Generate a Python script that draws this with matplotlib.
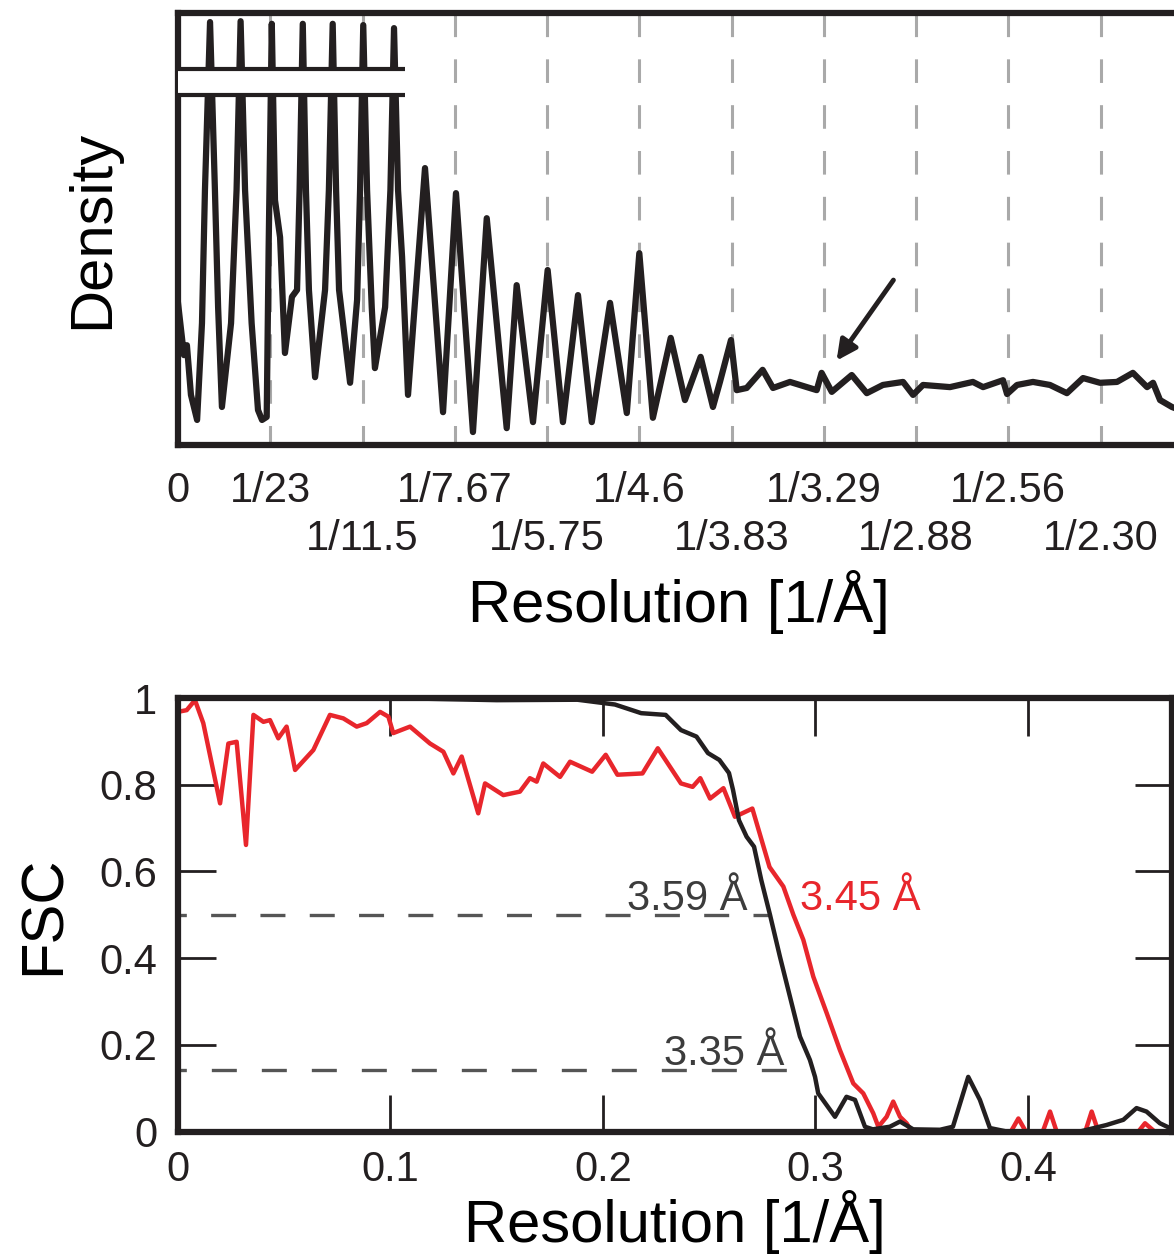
import matplotlib
matplotlib.use("Agg")
import matplotlib.pyplot as plt

plt.rcParams.update({
    "font.family": "Liberation Sans",
    "lines.scale_dashes": False,
    "text.color": "#231f20",
    "xtick.color": "#231f20",
    "ytick.color": "#231f20",
})

INK = "#231f20"
RED = "#e8262c"

# ─── DATA: density profile (resolution in 1/Å, density in arbitrary units) ───
dens_x = [0.0000, 0.0028, 0.0042, 0.0061, 0.0090, 0.0113, 0.0127, 0.0151, 0.0174, 0.0189,
          0.0207, 0.0250, 0.0276, 0.0295, 0.0316, 0.0347, 0.0377, 0.0396, 0.0418, 0.0427,
          0.0442, 0.0457, 0.0481, 0.0504, 0.0537, 0.0561, 0.0573, 0.0588, 0.0603, 0.0617,
          0.0646, 0.0693, 0.0711, 0.0729, 0.0745, 0.0759, 0.0811, 0.0844, 0.0858, 0.0873,
          0.0891, 0.0913, 0.0928, 0.0976, 0.1001, 0.1018, 0.1037, 0.1056, 0.1084, 0.1164,
          0.1249, 0.1310, 0.1390, 0.1455, 0.1549, 0.1596, 0.1673, 0.1742, 0.1814, 0.1885,
          0.1950, 0.2036, 0.2115, 0.2174, 0.2238, 0.2322, 0.2389, 0.2463, 0.2521, 0.2554,
          0.2606, 0.2633, 0.2680, 0.2755, 0.2804, 0.2884, 0.3010, 0.3033, 0.3081, 0.3175,
          0.3246, 0.3322, 0.3417, 0.3464, 0.3511, 0.3638, 0.3746, 0.3794, 0.3888, 0.3907,
          0.3954, 0.4029, 0.4109, 0.4189, 0.4265, 0.4345, 0.4425, 0.4500, 0.4567, 0.4595,
          0.4628, 0.4684, 0.4722]
dens_y = [32.9, 20.8, 23.1, 11.6, 5.8, 28.2, 59.0, 97.9, 59.0, 31.9,
          8.8, 28.2, 59.0, 98.1, 59.0, 28.2, 8.1, 5.8, 6.5, 45.1,
          97.5, 56.7, 48.1, 21.3, 34.3, 35.9, 59.0, 97.5, 59.0, 35.9,
          15.7, 35.9, 59.0, 97.5, 59.0, 35.9, 14.4, 33.6, 59.0, 97.2,
          59.0, 31.9, 17.8, 31.9, 59.0, 96.5, 59.0, 43.5, 11.6, 64.1,
          7.6, 58.3, 3.0, 52.5, 3.9, 37.0, 5.3, 40.5, 5.3, 34.7,
          5.3, 32.9, 7.4, 44.4, 6.3, 24.8, 10.4, 20.4, 8.8, 14.6,
          24.3, 12.7, 13.2, 17.4, 13.2, 14.6, 12.7, 16.7, 12.3, 16.2,
          12.0, 13.9, 14.6, 11.6, 13.9, 13.4, 14.6, 13.4, 15.0, 11.8,
          13.9, 14.6, 13.9, 12.0, 15.5, 14.4, 14.6, 16.7, 13.4, 14.4,
          10.4, 8.8, 8.1]

layer_ticks = [k / 23 for k in range(11)]
layer_labels = ["0", "1/23", "1/11.5", "1/7.67", "1/5.75", "1/4.6",
                "1/3.83", "1/3.29", "1/2.88", "1/2.56", "1/2.30"]

# axis break in the density panel
break_lo, break_hi, break_end = 81.0, 87.0, 0.107
arrow_tip = (0.3096, 19.0)
arrow_tail = (0.3379, 38.7)

# ─── DATA: FSC curves ───
black_x = [0.0, 0.10, 0.15, 0.188, 0.2056, 0.218, 0.2295, 0.2367, 0.244, 0.2494,
           0.2548, 0.2593, 0.2612, 0.264, 0.2676, 0.2711, 0.2745, 0.2786, 0.2833, 0.288,
           0.2927, 0.2974, 0.2998, 0.3013, 0.3092, 0.3146, 0.3186, 0.3233, 0.327, 0.335,
           0.3398, 0.346, 0.3586, 0.3647, 0.3719, 0.3774, 0.3821, 0.39, 0.4245, 0.437,
           0.4449, 0.4511, 0.4558, 0.4621, 0.4668]
black_y = [1.0, 1.0, 0.995, 0.996, 0.985, 0.965, 0.961, 0.926, 0.911, 0.873,
           0.857, 0.827, 0.788, 0.718, 0.680, 0.657, 0.580, 0.50, 0.403, 0.311,
           0.219, 0.165, 0.126, 0.088, 0.034, 0.080, 0.073, 0.011, 0.005, 0.011,
           0.023, 0.005, 0.004, 0.011, 0.126, 0.073, 0.008, 0.0, 0.0, 0.015,
           0.027, 0.054, 0.046, 0.019, 0.008]

red_x = [0.002, 0.0041, 0.008, 0.0119, 0.0198, 0.0237, 0.0276, 0.032, 0.0355, 0.0402,
         0.0433, 0.0472, 0.0511, 0.0551, 0.0637, 0.0715, 0.0778, 0.0841, 0.0888, 0.0951,
         0.099, 0.1013, 0.1092, 0.1186, 0.1249, 0.1296, 0.1335, 0.1413, 0.1445, 0.1531,
         0.1609, 0.1656, 0.1688, 0.1719, 0.1798, 0.1845, 0.1949, 0.2013, 0.2068, 0.2186,
         0.2258, 0.2367, 0.2422, 0.2458, 0.2504, 0.2567, 0.2621, 0.2703, 0.2784, 0.2849,
         0.2896, 0.2943, 0.299, 0.3053, 0.3115, 0.3178, 0.3225, 0.3272, 0.3296, 0.3335,
         0.3366, 0.3398, 0.3429, 0.3453, 0.392, 0.3955, 0.399, 0.407, 0.4104, 0.4135,
         0.427, 0.43, 0.4331, 0.452, 0.4551, 0.4596, 0.4678]
red_y = [0.97, 0.972, 0.995, 0.942, 0.757, 0.895, 0.899, 0.661, 0.961, 0.945,
         0.949, 0.907, 0.934, 0.834, 0.880, 0.961, 0.953, 0.934, 0.942, 0.968,
         0.957, 0.919, 0.934, 0.895, 0.876, 0.826, 0.865, 0.734, 0.803, 0.776,
         0.784, 0.815, 0.807, 0.849, 0.818, 0.853, 0.830, 0.869, 0.823, 0.826,
         0.884, 0.803, 0.795, 0.815, 0.768, 0.792, 0.726, 0.745, 0.610, 0.565,
         0.50, 0.442, 0.357, 0.273, 0.188, 0.111, 0.088, 0.042, 0.011, 0.034,
         0.069, 0.034, 0.019, 0.0, 0.0, 0.03, 0.0, 0.0, 0.046, 0.0,
         0.0, 0.046, 0.0, 0.0, 0.019, 0.0, 0.0]

fsc_ticks_x = [0, 0.1, 0.2, 0.3, 0.4]
fsc_ticks_y = [0, 0.2, 0.4, 0.6, 0.8, 1.0]
fsc_labels_x = ["0", "0.1", "0.2", "0.3", "0.4"]
fsc_labels_y = ["0", "0.2", "0.4", "0.6", "0.8", "1"]

res_half_black = 3.59
res_half_red = 3.45
res_gold_black = 3.35
thr_half, thr_gold = 0.5, 0.143

# ─── FIGURE ───
W, H = 1174, 1259
fig = plt.figure(figsize=(W / 100, H / 100), dpi=100)

# top panel: density profile
ax1 = fig.add_axes([178 / W, 1 - 445 / H, (1180 - 178) / W, (445 - 13) / H])
ax1.set_xlim(0, 0.4722)
ax1.set_ylim(0, 100)
for t in layer_ticks[1:]:
    ax1.plot([t, t], [100, 0], ls=(0, (17, 16)), color="#a9a9a9", lw=2.2, zorder=1)
ax1.plot(dens_x, dens_y, color=INK, lw=4.5, zorder=2)
ax1.axhspan(break_lo, break_hi, xmin=0, xmax=break_end / 0.4722, color="white", lw=0, zorder=3)
ax1.hlines([break_lo, break_hi], 0, break_end, color=INK, lw=3, zorder=4)
ax1.annotate("", xy=arrow_tip, xytext=arrow_tail,
             arrowprops=dict(arrowstyle="-|>", color=INK, lw=3.5, mutation_scale=30))

# labels alternate between two rows: upper row as major ticks, lower row as minor ticks
row1 = [k for k in range(11) if k == 0 or k % 2 == 1]
row2 = [k for k in range(11) if k > 0 and k % 2 == 0]
ax1.set_xticks([layer_ticks[k] for k in row1], [layer_labels[k] for k in row1])
ax1.set_xticks([layer_ticks[k] for k in row2], [layer_labels[k] for k in row2], minor=True)
ax1.tick_params(axis="x", which="major", length=0, pad=19, labelsize=30)
ax1.tick_params(axis="x", which="minor", length=0, pad=53, labelsize=30)
ax1.set_yticks([])
ax1.set_ylabel("Density", fontsize=43, labelpad=42)
ax1.set_xlabel("Resolution [1/Å]", fontsize=43, labelpad=8)
for s in ax1.spines.values():
    s.set_linewidth(4.5)
    s.set_color(INK)

# bottom panel: FSC
ax2 = fig.add_axes([178 / W, 1 - 1131.5 / H, (1172 - 178) / W, (1131.5 - 698) / H])
ax2.set_xlim(0, 0.4678)
ax2.set_ylim(0, 1)
ax2.hlines(thr_half, 0, 1 / res_half_black, color="#555555", lw=2.4,
           linestyles=[(12, (18, 17.5))], zorder=1)
ax2.hlines(thr_gold, 0, 1 / res_gold_black, color="#555555", lw=2.4,
           linestyles=[(12, (18, 18))], zorder=1)
ax2.plot(red_x, red_y, color=RED, lw=3.2, zorder=2)
ax2.plot(black_x, black_y, color=INK, lw=3.2, zorder=3)

ax2.text(0.2682, 0.511, f"{res_half_black} Å", fontsize=30, color="#3c3c3c", ha="right", va="baseline")
ax2.text(0.2856, 0.153, f"{res_gold_black} Å", fontsize=30, color="#3c3c3c", ha="right", va="baseline")
ax2.text(0.2927, 0.511, f"{res_half_red} Å", fontsize=30, color=RED, ha="left", va="baseline")

ax2.set_xticks(fsc_ticks_x, fsc_labels_x)
ax2.set_yticks(fsc_ticks_y, fsc_labels_y)
ax2.tick_params(direction="in", length=27, width=2, top=True, right=True, labelsize=30)
ax2.tick_params(axis="x", pad=13)
ax2.tick_params(axis="y", pad=15)
ax2.set_ylabel("FSC", fontsize=43, labelpad=20)
ax2.set_xlabel("Resolution [1/Å]", fontsize=43, labelpad=0)
for s in ax2.spines.values():
    s.set_linewidth(4.5)
    s.set_color(INK)

fig.savefig("out.png", dpi=100)
